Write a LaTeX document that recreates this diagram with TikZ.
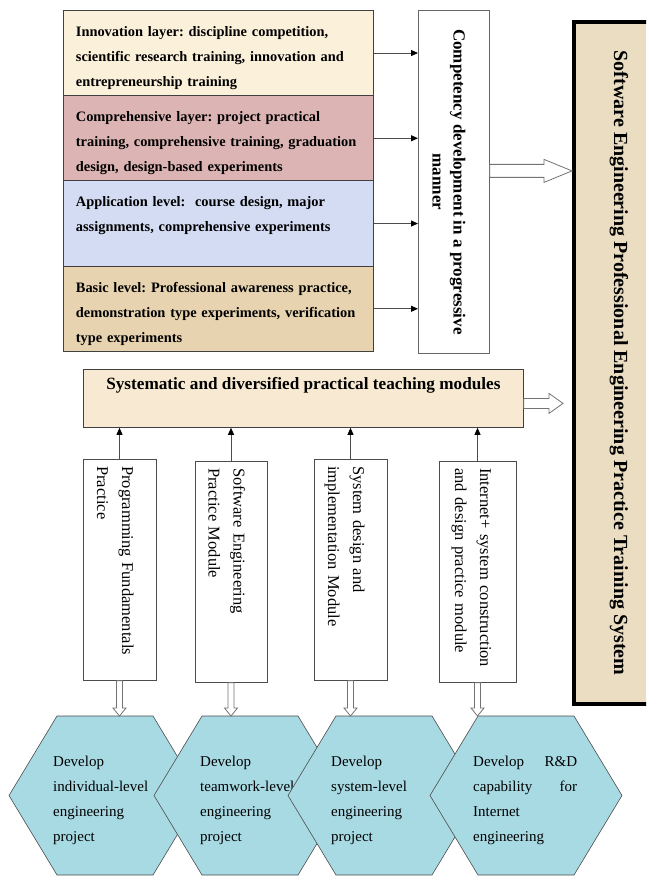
\documentclass[tikz,border=0pt]{standalone}
\usepackage{fontspec}
\setmainfont{Liberation Serif}
\usetikzlibrary{arrows.meta, calc, positioning}
\frenchspacing

\definecolor{innov}{HTML}{FBF0DA}
\definecolor{compr}{HTML}{DDB4B4}
\definecolor{appl}{HTML}{D3DCF2}
\definecolor{basic}{HTML}{E7D3AF}
\definecolor{parch}{HTML}{EBDDC2}
\definecolor{barfill}{HTML}{F8EAD2}
\definecolor{drop}{HTML}{A8DAE4}

\tikzset{
  layer/.style={draw=black!75, line width=0.8pt, anchor=north west, minimum width=310pt,
    inner xsep=12.5pt, inner ysep=0pt, text width=285pt, align=left,
    text height=26pt, text depth=59.25pt, font=\fontsize{14.4}{25}\selectfont\bfseries},
  modbox/.style={draw=black!70, line width=0.8pt, fill=white, anchor=north, minimum height=221pt},
  modtext/.style={rotate=-90, anchor=base west, inner sep=0pt, text width=215pt, align=left,
    font=\fontsize{16.5}{25}\selectfont},
  hexa/.style={draw=black!70, line width=0.6pt, fill=drop},
  hextext/.style={anchor=base west, inner sep=0pt, align=left, font=\fontsize{15}{25}\selectfont},
  thinarrow/.style={draw=black!70, line width=0.8pt, -{Triangle[length=7pt,width=6pt,black]}},
  hollow/.style={draw=black!55, fill=white, line width=0.8pt},
  blockright/.style n args={3}{hollow, to path={let \p1=(\tikztostart), \p2=(\tikztotarget) in
    (\x1,{\y1+#1}) -- ({\x2-#3},{\y1+#1}) -- ({\x2-#3},{\y1+#2}) -- (\x2,\y1)
    -- ({\x2-#3},{\y1-#2}) -- ({\x2-#3},{\y1-#1}) -- (\x1,{\y1-#1}) -- cycle}},
  blockdown/.style n args={3}{hollow, to path={let \p1=(\tikztostart), \p2=(\tikztotarget) in
    ({\x1-#1},\y1) -- ({\x1-#1},{\y2+#3}) -- ({\x1-#2},{\y2+#3}) -- (\x1,\y2)
    -- ({\x1+#2},{\y2+#3}) -- ({\x1+#1},{\y2+#3}) -- ({\x1+#1},\y1) -- cycle}},
}

\begin{document}
\begin{tikzpicture}[x=1pt, y=-1pt]
    \useasboundingbox (0,0) rectangle (646,877);
    \clip (0,0) rectangle (646,877);

    % four layers
    \node[layer, fill=innov] (lay1) at (63,10) {Innovation layer: discipline competition,\\scientific research training, innovation and\\entrepreneurship training};
    \node[layer, fill=compr] (lay2) at (63,95.25) {Comprehensive layer: project practical\\training, comprehensive training, graduation\\design, design-based experiments};
    \node[layer, fill=appl] (lay3) at (63,180.5) {Application level:~ course design, major\\assignments, comprehensive experiments};
    \node[layer, fill=basic] (lay4) at (63,265.75) {Basic level: Professional awareness practice,\\demonstration type experiments, verification\\type experiments};

    \node[draw=black!60, line width=0.8pt, fill=white, anchor=north west, minimum width=71pt, minimum height=343pt] (comp) at (418,10) {};
    \node[rotate=-90, align=center, font=\fontsize{17}{21}\selectfont\bfseries] at ($(comp.center)+(-5,0)$) {Competency development in a progressive\\manner};

    \foreach \i in {1,...,4}{
        \draw[thinarrow] (lay\i.east) -- (lay\i.east -| comp.west);
    }

    \node[draw=black, line width=4pt, fill=parch, anchor=north west, minimum width=90pt, minimum height=682pt] (sys) at (572,20) {};
    \node[rotate=-90, font=\fontsize{20}{22}\selectfont\bfseries] at (sys.center) {Software Engineering Professional Engineering Practice Training System};

    \draw[blockright={6.5pt}{11.5pt}{28pt}] ([yshift=11pt]comp.east) to (sys.west);

    \node[draw=black!75, line width=0.8pt, fill=barfill, anchor=north west, minimum width=440pt,
        inner ysep=0pt, text height=20.5pt, text depth=37.5pt,
        font=\fontsize{17.2}{20}\selectfont\bfseries] (bar) at (83,369) {Systematic and diversified practical teaching modules};

    \draw[blockright={5pt}{10pt}{14pt}] ([yshift=-5pt]bar.east) to ([xshift=-9pt]sys.west);

    % practice modules
    \foreach \i/\cx/\top/\w/\txt in {1/119.5/459/73/{Programming Fundamentals\\Practice},
        2/231/461/72/{Software Engineering\\Practice Module},
        3/350.5/459/73/{System design and\\implementation Module},
        4/477.5/461/77/{Internet+ system construction\\and design practice module}}{
        \node[modbox, minimum width=\w pt] (m\i) at (\cx,\top) {};
        \node[modtext] at ($(m\i.north)+(2.5,7)$) {\txt};
        \draw[thinarrow] (m\i.north) -- (m\i.north |- bar.south);
    }

    % hexagons
    \foreach \i/\cx/\tx/\tw/\txt in {1/105/53/120/{Develop\\individual-level\\engineering\\project},
        2/250/200/120/{Develop\\teamwork-level\\engineering\\project},
        3/384/331/120/{Develop\\system-level\\engineering\\project},
        4/526/473/104/{Develop\hfill R\&D\\capability\hfill for\\Internet\\engineering}}{
        \draw[hexa] (\cx-96,795.5) -- (\cx-48,716) -- (\cx+48,716) -- (\cx+96,795.5) -- (\cx+48,875) -- (\cx-48,875) -- cycle;
        \coordinate (h\i) at (\cx,716);
        \node[hextext, text width=\tw pt] (t\i) at (\tx,766) {\txt};
    }

    \foreach \i in {1,...,4}{
        \draw[blockdown={3pt}{6.5pt}{8pt}] (m\i.south) to (h\i);
    }
\end{tikzpicture}
\end{document}
